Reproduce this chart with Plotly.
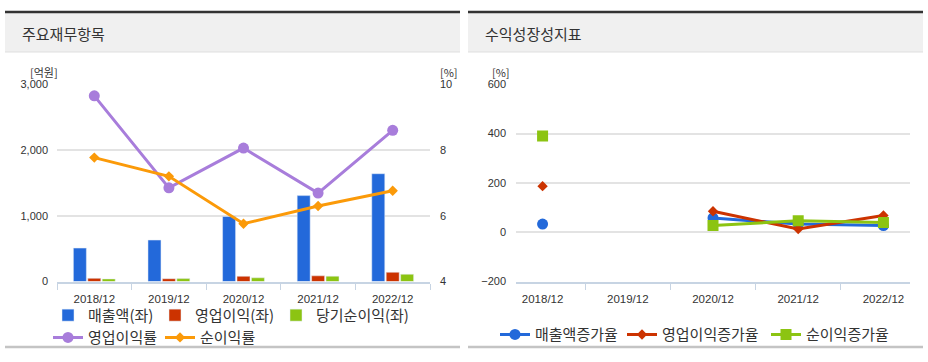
import plotly.graph_objects as go

# ---------------- data ----------------
years = ["2018/12", "2019/12", "2020/12", "2021/12", "2022/12"]
revenue = [509, 631, 989, 1307, 1640]          # 매출액(좌) [억원]
op_profit = [49, 43, 80, 87, 141]              # 영업이익(좌)
net_profit = [40, 45, 57, 82, 111]             # 당기순이익(좌)
op_margin = [9.65, 6.85, 8.06, 6.69, 8.6]      # 영업이익률 [%]
net_margin = [7.77, 7.2, 5.76, 6.3, 6.76]      # 순이익률 [%]

rev_growth = [33, None, 58, 33, 27]            # 매출액증가율 [%]
op_growth = [187, None, 85, 13, 68]            # 영업이익증가율
net_growth = [390, None, 27, 47, 40]           # 순이익증가율

left_ticks = [0, 1000, 2000, 3000]
right_ticks = [4, 6, 8, 10]
growth_ticks = [-200, 0, 200, 400, 600]

# ---------------- helpers ----------------
W, H = 928, 362
def px(x):
    return x / W
def py(y):
    return 1 - y / H

KR = "Noto Sans CJK KR"
NUM = "Liberation Sans, Noto Sans CJK KR"
TXT = "#333333"
GRID = "#e3e3e3"
AXIS = "#c7d4e3"

BLUE = "#2369da"
RED = "#cc3300"
GREEN = "#8cc412"
PURPLE = "#a87ddb"
ORANGE = "#fb9a09"

fig = go.Figure()

# bars (left panel)
fig.add_trace(go.Bar(x=years, y=revenue, name="매출액(좌)", marker_color=BLUE,
                     xaxis="x", yaxis="y", legend="legend", legendwidth=62))
fig.add_trace(go.Bar(x=years, y=op_profit, name="영업이익(좌)", marker_color=RED,
                     xaxis="x", yaxis="y", legend="legend", legendwidth=76))
fig.add_trace(go.Bar(x=years, y=net_profit, name="당기순이익(좌)", marker_color=GREEN,
                     xaxis="x", yaxis="y", legend="legend", legendwidth=100))

# lines (left panel, right axis)
fig.add_trace(go.Scatter(x=years, y=op_margin, name="영업이익률", mode="lines+markers",
                         line=dict(color=PURPLE, width=3),
                         marker=dict(symbol="circle", size=11, color=PURPLE),
                         xaxis="x", yaxis="y2", legend="legend3", legendwidth=67))
fig.add_trace(go.Scatter(x=years, y=net_margin, name="순이익률", mode="lines+markers",
                         line=dict(color=ORANGE, width=3),
                         marker=dict(symbol="diamond", size=8, color=ORANGE),
                         xaxis="x", yaxis="y2", legend="legend3", legendwidth=70))

# growth lines (right panel)
fig.add_trace(go.Scatter(x=years, y=rev_growth, name="매출액증가율", mode="lines+markers",
                         line=dict(color=BLUE, width=3),
                         marker=dict(symbol="circle", size=11, color=BLUE),
                         xaxis="x2", yaxis="y3", legend="legend2", legendwidth=82))
fig.add_trace(go.Scatter(x=years, y=op_growth, name="영업이익증가율", mode="lines+markers",
                         line=dict(color=RED, width=3),
                         marker=dict(symbol="diamond", size=8, color=RED),
                         xaxis="x2", yaxis="y3", legend="legend2", legendwidth=99))
fig.add_trace(go.Scatter(x=years, y=net_growth, name="순이익증가율", mode="lines+markers",
                         line=dict(color=GREEN, width=3),
                         marker=dict(symbol="square", size=11, color=GREEN),
                         xaxis="x2", yaxis="y3", legend="legend2", legendwidth=91))

xcommon = dict(type="category", showgrid=False, zeroline=False,
               showline=True, linecolor=AXIS, linewidth=2,
               ticks="outside", tickson="boundaries", ticklen=6, tickcolor=AXIS, tickwidth=1,
               ticklabelstandoff=6,
               tickfont=dict(family=NUM, size=11.5, color=TXT), fixedrange=True)

shapes = []
annotations = []
for (x0, x1, title) in [(5, 460, "주요재무항목"), (468, 923, "수익성장성지표")]:
    shapes.append(dict(type="rect", xref="paper", yref="paper", x0=px(x0), x1=px(x1),
                       y0=py(47), y1=py(7), fillcolor="#f0f0f0", line=dict(width=0), layer="below"))
    shapes.append(dict(type="rect", xref="paper", yref="paper", x0=px(x0), x1=px(x1),
                       y0=py(7.5), y1=py(5), fillcolor="#333333", line=dict(width=0), layer="below"))
    shapes.append(dict(type="line", xref="paper", yref="paper", x0=px(x0), x1=px(x1),
                       y0=py(47.5), y1=py(47.5), line=dict(color="#dadada", width=1), layer="below"))
    shapes.append(dict(type="rect", xref="paper", yref="paper", x0=px(x0), x1=px(x1),
                       y0=py(354), y1=py(351.5), fillcolor="#c4c4c4", line=dict(width=0), layer="below"))
    annotations.append(dict(text=title, xref="paper", yref="paper", x=px(x0 + 15), y=py(28),
                            xanchor="left", yanchor="middle", showarrow=False,
                            font=dict(family=KR, size=15, color=TXT)))

for (xc, txt) in [(44, "[억원]"), (449, "[%]"), (501, "[%]")]:
    annotations.append(dict(text=txt, xref="paper", yref="paper", x=px(xc), y=py(68),
                            xanchor="center", yanchor="middle", showarrow=False,
                            font=dict(family=KR, size=11, color=TXT)))

legend_font = dict(family=KR, size=15, color=TXT)

fig.update_layout(
    width=W, height=H,
    margin=dict(l=0, r=0, t=0, b=0),
    paper_bgcolor="white", plot_bgcolor="white",
    barmode="group", bargap=0.42, bargroupgap=0.1,
    hovermode=False,
    xaxis=dict(domain=[px(57), px(430)], anchor="y", **xcommon),
    yaxis=dict(domain=[py(285), py(81)], range=[0, 3000], tickvals=left_ticks,
               tickformat=",", showgrid=True, gridcolor=GRID, gridwidth=2,
               zeroline=False, showline=False, ticks="", ticklabelstandoff=8,
               tickfont=dict(family=NUM, size=11, color=TXT), fixedrange=True),
    yaxis2=dict(overlaying="y", side="right", anchor="x", range=[4, 10], tickvals=right_ticks,
                showgrid=False, zeroline=False, showline=False, ticks="", ticklabelstandoff=9,
                tickfont=dict(family=NUM, size=11, color=TXT), fixedrange=True),
    xaxis2=dict(domain=[px(516), px(910)], anchor="y3", **xcommon),
    yaxis3=dict(domain=[py(285), py(81)], anchor="x2", range=[-200, 600], tickvals=growth_ticks,
                showgrid=True, gridcolor=GRID, gridwidth=2,
                zeroline=False, showline=False, ticks="", ticklabelstandoff=9,
                tickfont=dict(family=NUM, size=11, color=TXT), fixedrange=True),
    legend=dict(orientation="h", x=px(48), xanchor="left", y=py(320), yanchor="middle",
                font=legend_font, bgcolor="rgba(0,0,0,0)", borderwidth=0,
                itemclick=False, itemdoubleclick=False),
    legend3=dict(orientation="h", x=px(48), xanchor="left", y=py(343), yanchor="middle",
                 font=legend_font, bgcolor="rgba(0,0,0,0)", borderwidth=0,
                 itemclick=False, itemdoubleclick=False),
    legend2=dict(orientation="h", x=px(495), xanchor="left", y=py(340), yanchor="middle",
                 font=legend_font, bgcolor="rgba(0,0,0,0)", borderwidth=0,
                 itemclick=False, itemdoubleclick=False),
    shapes=shapes,
    annotations=annotations,
)

fig.write_html("out.html", config={"displayModeBar": False, "staticPlot": True},
               post_script="document.body.style.margin='0';document.body.style.overflow='hidden';")
